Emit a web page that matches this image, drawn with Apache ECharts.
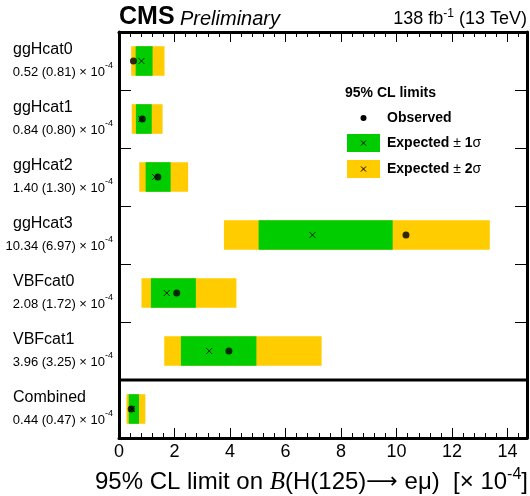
<!DOCTYPE html>
<html>
<head>
<meta charset="utf-8">
<script src="https://cdn.jsdelivr.net/npm/echarts@6/dist/echarts.min.js"></script>
<style>
  html, body { margin: 0; padding: 0; background: #fff; }
  #chart { width: 530px; height: 496px; }
</style>
</head>
<body>
<div id="chart"></div>
<script>
// Upper limits on B(H -> e mu), in units of 1e-4
const categories = ['ggHcat0', 'ggHcat1', 'ggHcat2', 'ggHcat3', 'VBFcat0', 'VBFcat1', 'Combined'];
const observed   = [0.52, 0.84, 1.40, 10.34, 2.08, 3.96, 0.44];
const expected   = [0.81, 0.80, 1.30, 6.97, 1.72, 3.25, 0.47];
const sigma1Low  = [0.60, 0.61, 0.96, 5.03, 1.15, 2.23, 0.35];
const sigma1High = [1.21, 1.18, 1.86, 9.86, 2.77, 4.95, 0.72];
const sigma2Low  = [0.44, 0.46, 0.73, 3.78, 0.81, 1.63, 0.27];
const sigma2High = [1.64, 1.57, 2.49, 13.36, 4.23, 7.30, 0.95];
const xTicks = [0, 2, 4, 6, 8, 10, 12, 14];

const FONT = '"Liberation Sans", Arial, Helvetica, sans-serif';
const GREEN = '#00cc00';
const YELLOW = '#ffcc00';
const X_MAX = 14.7;

const chart = echarts.init(document.getElementById('chart'), null, { renderer: 'canvas' });

// Horizontal band from low to high inside each category row
function bandSeries(name, low, high, color, z) {
  return {
    type: 'custom',
    name: name,
    xAxisIndex: 0,
    yAxisIndex: 0,
    z: z,
    silent: true,
    data: categories.map((c, i) => [c, low[i], high[i]]),
    encode: { y: 0, x: [1, 2] },
    renderItem: function (params, api) {
      const a = api.coord([api.value(1), api.value(0)]);
      const b = api.coord([api.value(2), api.value(0)]);
      const h = api.size([0, 1])[1] * 0.51;
      return {
        type: 'rect',
        shape: { x: a[0], y: a[1] - h / 2, width: b[0] - a[0], height: h },
        style: { fill: color }
      };
    }
  };
}

const xCommon = {
  type: 'value',
  min: 0,
  max: X_MAX,
  gridIndex: 0,
  splitLine: { show: false }
};

function majorX(position, showLabels) {
  return Object.assign({}, xCommon, {
    position: position,
    interval: 2,
    axisLine: { show: true, onZero: false, lineStyle: { color: '#000', width: 3 } },
    axisTick: { show: true, inside: true, length: 10, lineStyle: { color: '#000', width: 1 } },
    axisLabel: {
      show: showLabels,
      showMaxLabel: false,
      margin: 5,
      color: '#000',
      fontFamily: FONT,
      fontSize: 18,
      formatter: v => (xTicks.indexOf(v) >= 0 ? String(v) : '')
    }
  });
}

function minorX(position) {
  return Object.assign({}, xCommon, {
    position: position,
    interval: 0.4,
    axisLine: { show: false, onZero: false },
    axisTick: { show: true, inside: true, length: 5, lineStyle: { color: '#000', width: 1 } },
    axisLabel: { show: false }
  });
}

const yCommon = {
  type: 'category',
  data: categories,
  inverse: true,
  splitLine: { show: false },
  axisLine: { show: true, onZero: false, lineStyle: { color: '#000', width: 3 } },
  axisTick: { show: true, inside: true, length: 12, lineStyle: { color: '#000', width: 1 } }
};

const option = {
  animation: false,
  backgroundColor: '#fff',
  grid: { left: 119, right: 3, top: 32, bottom: 58, containLabel: false },
  xAxis: [majorX('bottom', true), minorX('bottom'), majorX('top', false), minorX('top')],
  yAxis: [
    Object.assign({}, yCommon, {
      position: 'left',
      axisLabel: {
        align: 'left',
        margin: 106,
        width: 100,
        overflow: 'none',
        color: '#000',
        fontFamily: FONT,
        formatter: function (v, i) {
          return '{n|' + v + '}\n{v|' + observed[i].toFixed(2) + ' (' + expected[i].toFixed(2) + ') \u00d7 10}{s|-4}';
        },
        rich: {
          n: { fontFamily: FONT, fontSize: 16, lineHeight: 22, color: '#000', align: 'left' },
          v: { fontFamily: FONT, fontSize: 13, lineHeight: 22, color: '#000', align: 'right' },
          s: { fontFamily: FONT, fontSize: 9, lineHeight: 11, verticalAlign: 'top', color: '#000', align: 'right' }
        }
      }
    }),
    Object.assign({}, yCommon, {
      position: 'right',
      axisLabel: { show: false }
    })
  ],
  series: [
    bandSeries('Expected \u00b1 2\u03c3', sigma2Low, sigma2High, YELLOW, 1),
    bandSeries('Expected \u00b1 1\u03c3', sigma1Low, sigma1High, GREEN, 2),
    {
      type: 'scatter',
      name: 'Expected',
      xAxisIndex: 0,
      yAxisIndex: 0,
      z: 3,
      silent: true,
      symbol: 'path://M0 0L10 10M10 0L0 10',
      symbolSize: 6,
      itemStyle: { color: 'transparent', borderColor: '#000', borderWidth: 1 },
      data: categories.map((c, i) => [expected[i], c])
    },
    {
      type: 'scatter',
      name: 'Observed',
      xAxisIndex: 0,
      yAxisIndex: 0,
      z: 4,
      silent: true,
      symbol: 'circle',
      symbolSize: 7,
      itemStyle: { color: '#000' },
      data: categories.map((c, i) => [observed[i], c])
    },
    {
      // separator above the combined result
      type: 'custom',
      name: 'separator',
      xAxisIndex: 0,
      yAxisIndex: 0,
      z: 5,
      silent: true,
      data: [['Combined']],
      encode: { y: 0 },
      renderItem: function (params, api) {
        const c = api.coord([0, api.value(0)]);
        const h = api.size([0, 1])[1];
        const y = c[1] - h / 2;
        const cs = params.coordSys;
        return {
          type: 'line',
          shape: { x1: cs.x, y1: y, x2: cs.x + cs.width, y2: y },
          style: { stroke: '#000', lineWidth: 3 }
        };
      }
    }
  ],
  graphic: [
    // header
    { type: 'text', x: 119, y: 17, style: { text: 'CMS', fill: '#000', font: 'bold 25px ' + FONT, verticalAlign: 'middle', align: 'left' } },
    { type: 'text', x: 180, y: 19, style: { text: 'Preliminary', fill: '#000', font: 'italic 20px ' + FONT, verticalAlign: 'middle', align: 'left' } },
    {
      type: 'text', x: 527, y: 19,
      style: {
        text: '{a|138 fb}{s|-1}{a| (13 TeV)}',
        align: 'right', verticalAlign: 'middle',
        rich: {
          a: { fontFamily: FONT, fontSize: 18, lineHeight: 22, fill: '#000' },
          s: { fontFamily: FONT, fontSize: 12, lineHeight: 10, verticalAlign: 'top', fill: '#000' }
        }
      }
    },
    // x axis title
    {
      type: 'text', x: 528, y: 482,
      style: {
        text: '{a|95% CL limit on }{b|B}{a|(H(125)}{r|\u27f6}{a| e\u03bc)  [\u00d7 10}{s|-4}{a|]}',
        align: 'right', verticalAlign: 'middle',
        rich: {
          a: { fontFamily: FONT, fontSize: 24, lineHeight: 30, fill: '#000' },
          r: { fontFamily: '"DejaVu Sans", sans-serif', fontSize: 22, lineHeight: 30, fill: '#000' },
          b: { fontFamily: '"Liberation Serif", "Times New Roman", serif', fontStyle: 'italic', fontSize: 25, lineHeight: 30, fill: '#000' },
          s: { fontFamily: FONT, fontSize: 16, lineHeight: 16, verticalAlign: 'top', fill: '#000' }
        }
      }
    },
    // legend
    { type: 'text', x: 345, y: 93, style: { text: '95% CL limits', fill: '#000', font: 'bold 14px ' + FONT, verticalAlign: 'middle', align: 'left' } },
    { type: 'circle', shape: { cx: 363.5, cy: 118, r: 3 }, style: { fill: '#000' } },
    { type: 'text', x: 387, y: 118, style: { text: 'Observed', fill: '#000', font: 'bold 14px ' + FONT, verticalAlign: 'middle', align: 'left' } },
    { type: 'rect', shape: { x: 347, y: 134, width: 33, height: 18 }, style: { fill: GREEN } },
    { type: 'line', shape: { x1: 361, y1: 140.5, x2: 366, y2: 145.5 }, style: { stroke: '#000', lineWidth: 1 } },
    { type: 'line', shape: { x1: 366, y1: 140.5, x2: 361, y2: 145.5 }, style: { stroke: '#000', lineWidth: 1 } },
    {
      type: 'text', x: 387, y: 143,
      style: {
        text: '{b|Expected }{r|\u00b1 }{b|1}{r|\u03c3}', align: 'left', verticalAlign: 'middle',
        rich: {
          b: { fontFamily: FONT, fontWeight: 'bold', fontSize: 14, fill: '#000' },
          r: { fontFamily: FONT, fontSize: 14, fill: '#000' }
        }
      }
    },
    { type: 'rect', shape: { x: 347, y: 160, width: 33, height: 18 }, style: { fill: YELLOW } },
    { type: 'line', shape: { x1: 361, y1: 166.5, x2: 366, y2: 171.5 }, style: { stroke: '#000', lineWidth: 1 } },
    { type: 'line', shape: { x1: 366, y1: 166.5, x2: 361, y2: 171.5 }, style: { stroke: '#000', lineWidth: 1 } },
    {
      type: 'text', x: 387, y: 169,
      style: {
        text: '{b|Expected }{r|\u00b1 }{b|2}{r|\u03c3}', align: 'left', verticalAlign: 'middle',
        rich: {
          b: { fontFamily: FONT, fontWeight: 'bold', fontSize: 14, fill: '#000' },
          r: { fontFamily: FONT, fontSize: 14, fill: '#000' }
        }
      }
    }
  ]
};

chart.setOption(option);
</script>
</body>
</html>
